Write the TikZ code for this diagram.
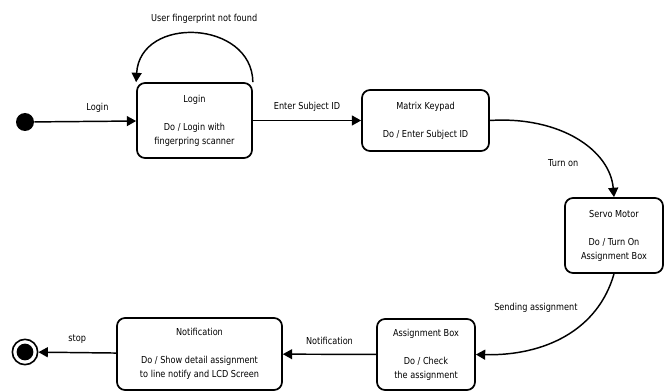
\documentclass[tikz,border=0pt]{standalone}
\usepackage{fontspec}
\setmainfont[FakeStretch=0.85]{DejaVu Sans}
\usepackage{tikz}
\usetikzlibrary{arrows.meta}

\begin{document}
\begin{tikzpicture}[x=0.75pt,y=-0.75pt,
  every node/.style={font=\fontsize{7.2pt}{10.5pt}\selectfont},
  state/.style={draw,line width=1.3pt,rounded corners=6pt,align=center,inner sep=0pt},
  trans/.style={line width=1.1pt,-{Triangle[length=7pt,width=7.5pt]}}]
  \useasboundingbox (0,0) rectangle (669,392);

  % start and end
  \node[circle,fill=black,minimum size=13.5pt,inner sep=0pt] (init) at (25,122) {};
  \node[circle,draw,line width=1.2pt,minimum size=19pt,inner sep=0pt] (final) at (25,352) {};
  \fill[black] (final) circle (6.3pt);

  % states
  \node[state,minimum width=86.25pt,minimum height=56.25pt] (login) at (194.5,120.5)
    {Login\\[10.5pt]Do / Login with\\fingerpring scanner};
  \node[state,minimum width=95.25pt,minimum height=45.75pt] (keypad) at (425.5,120.5)
    {Matrix Keypad\\[10.5pt]Do / Enter Subject ID};
  \node[state,minimum width=73.5pt,minimum height=56.25pt] (servo) at (614,235.5)
    {Servo Motor\\[10.5pt]Do / Turn On\\Assignment Box};
  \node[state,minimum width=73.5pt,minimum height=53.25pt] (assign) at (426,354.5)
    {Assignment Box\\[10.5pt]Do / Check\\the assignment};
  \node[state,minimum width=123.75pt,minimum height=54pt] (notif) at (199.5,354)
    {Notification\\[10.5pt]Do / Show detail assignment\\to line notify and LCD Screen};

  % transitions
  \draw[trans] (init) -- (login) node[pos=0.62,above=3pt]{Login};
  \draw[trans] (login.north east) .. controls (252,20) and (140,15) .. (login.north west)
    node[pos=0.45,above=4pt]{User fingerprint not found};
  \draw[trans] (login) -- (keypad) node[midway,above=3pt]{Enter Subject ID};
  \draw[trans] (keypad.east) .. controls (560,116) and (610,150) .. (servo.north)
    node[pos=0.6,below left=4pt]{Turn on};
  \draw[trans] (servo.south) .. controls (598,330) and (545,356) .. (assign.east)
    node[pos=0.23,left=11pt]{Sending assignment};
  \draw[trans] (assign) -- (notif) node[midway,above=3pt]{Notification};
  \draw[trans] (notif) -- (final) node[midway,above=3pt]{stop};
\end{tikzpicture}
\end{document}
